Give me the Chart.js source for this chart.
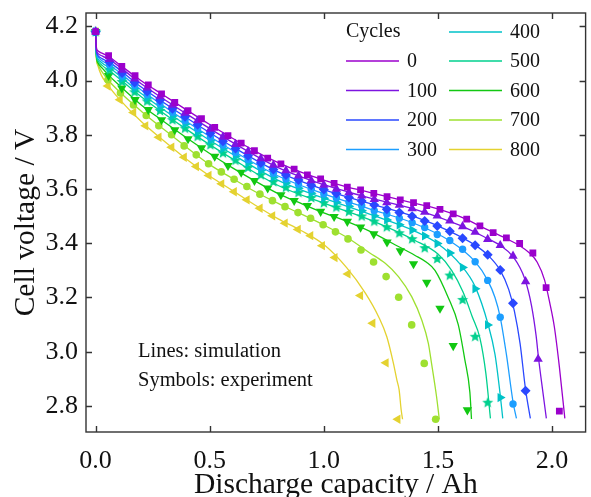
<!DOCTYPE html>
<html>
<head>
<meta charset="utf-8">
<script src="https://cdn.jsdelivr.net/npm/chart.js@4.4.0/dist/chart.umd.min.js"></script>
<style>
  html, body { margin: 0; padding: 0; background: #fff; }
</style>
</head>
<body>
<canvas id="chart" width="591" height="497"></canvas>
<script>
// cycle numbers and colours (purple -> yellow)
var cycles = ["0", "100", "200", "300", "400", "500", "600", "700", "800"];
var colors = ["#9b00cc", "#7d14e0", "#2a48ff", "#1c9eff", "#00c2c8", "#00d08e", "#12c812", "#9ee030", "#e4d230"];

var xTicks = [0, 0.5, 1.0, 1.5, 2.0];
var yTicks = [2.8, 3.0, 3.2, 3.4, 3.6, 3.8, 4.0, 4.2];

// simulation curves [capacity Ah, voltage V]
var sim0 = [[0,4.18],[0.003,4.125],[0.01,4.11],[0.03,4.10],[0.057,4.089],[0.1,4.062],[0.2,3.999],[0.3,3.945],[0.4,3.891],[0.5,3.838],[0.6,3.787],[0.7,3.739],[0.8,3.697],[0.9,3.662],[1.0,3.633],[1.1,3.608],[1.2,3.588],[1.3,3.567],[1.4,3.547],[1.5,3.527],[1.6,3.497],[1.7,3.457],[1.8,3.417],[1.86,3.39],[1.9,3.365],[1.935,3.33],[1.967,3.265],[1.99,3.18],[2.01,3.092],[2.032,2.945],[2.056,2.754]];
var sim100 = [[0,4.18],[0.003,4.118],[0.01,4.1],[0.03,4.09],[0.061,4.077],[0.2,3.988],[0.4,3.876],[0.6,3.772],[0.8,3.679],[1.0,3.616],[1.2,3.567],[1.4,3.525],[1.6,3.465],[1.7,3.425],[1.773,3.392],[1.83,3.35],[1.88,3.27],[1.91,3.17],[1.93,3.06],[1.941,2.975],[1.96,2.85],[1.975,2.754]];
var sim200 = [[0,4.18],[0.003,4.113],[0.01,4.093],[0.03,4.08],[0.061,4.067],[0.2,3.976],[0.4,3.862],[0.6,3.756],[0.8,3.663],[1.0,3.598],[1.2,3.547],[1.4,3.497],[1.55,3.445],[1.663,3.393],[1.72,3.355],[1.773,3.30],[1.81,3.23],[1.835,3.15],[1.86,3.03],[1.884,2.86],[1.905,2.754]];
var sim300 = [[0,4.18],[0.003,4.108],[0.01,4.087],[0.03,4.072],[0.061,4.057],[0.2,3.965],[0.4,3.848],[0.6,3.742],[0.8,3.648],[1.0,3.582],[1.2,3.527],[1.4,3.472],[1.55,3.41],[1.663,3.332],[1.718,3.263],[1.75,3.2],[1.773,3.127],[1.8,2.99],[1.83,2.81],[1.844,2.754]];
var sim400 = [[0,4.18],[0.003,4.103],[0.01,4.08],[0.03,4.064],[0.061,4.047],[0.2,3.952],[0.4,3.834],[0.6,3.728],[0.8,3.632],[1.0,3.566],[1.2,3.507],[1.4,3.444],[1.5,3.398],[1.6,3.32],[1.663,3.24],[1.72,3.1],[1.75,2.99],[1.773,2.84],[1.784,2.754]];
var sim500 = [[0,4.18],[0.003,4.098],[0.01,4.073],[0.03,4.055],[0.061,4.036],[0.2,3.940],[0.4,3.819],[0.6,3.711],[0.8,3.613],[1.0,3.548],[1.2,3.487],[1.4,3.41],[1.5,3.36],[1.56,3.3],[1.61,3.22],[1.65,3.13],[1.684,3.05],[1.71,2.92],[1.73,2.754]];
var sim600 = [[0,4.18],[0.003,4.095],[0.01,4.066],[0.03,4.045],[0.057,4.02],[0.1,3.985],[0.2,3.91],[0.3,3.848],[0.4,3.788],[0.5,3.731],[0.6,3.678],[0.7,3.629],[0.8,3.583],[0.9,3.547],[1.0,3.512],[1.1,3.481],[1.2,3.445],[1.3,3.40],[1.4,3.355],[1.45,3.33],[1.487,3.30],[1.545,3.20],[1.589,3.10],[1.618,2.97],[1.64,2.85],[1.647,2.752]];
var sim700 = [[0,4.18],[0.003,4.09],[0.01,4.06],[0.03,4.03],[0.054,4.003],[0.1,3.962],[0.2,3.887],[0.3,3.819],[0.4,3.753],[0.5,3.69],[0.6,3.639],[0.7,3.59],[0.8,3.547],[0.9,3.508],[1.0,3.467],[1.1,3.422],[1.2,3.365],[1.269,3.326],[1.327,3.277],[1.385,3.203],[1.429,3.117],[1.458,3.031],[1.472,2.957],[1.494,2.834],[1.506,2.751]];
var sim800 = [[0,4.18],[0.003,4.09],[0.01,4.055],[0.025,4.02],[0.054,3.983],[0.1,3.935],[0.2,3.849],[0.3,3.777],[0.4,3.709],[0.5,3.648],[0.6,3.594],[0.7,3.54],[0.8,3.49],[0.9,3.447],[1.0,3.395],[1.1,3.31],[1.182,3.216],[1.24,3.129],[1.276,3.055],[1.305,2.957],[1.32,2.896],[1.33,2.859],[1.339,2.785],[1.345,2.751]];

// experimental points
var exp0 = [[0,4.18],[0.057,4.092],[0.115,4.052],[0.173,4.018],[0.231,3.984],[0.289,3.951],[0.347,3.919],[0.405,3.889],[0.464,3.859],[0.522,3.827],[0.580,3.797],[0.638,3.769],[0.696,3.741],[0.754,3.714],[0.812,3.693],[0.870,3.673],[0.928,3.652],[0.986,3.637],[1.045,3.621],[1.103,3.607],[1.161,3.597],[1.219,3.584],[1.277,3.572],[1.335,3.560],[1.393,3.550],[1.451,3.539],[1.509,3.525],[1.567,3.508],[1.626,3.489],[1.684,3.464],[1.742,3.439],[1.800,3.420],[1.858,3.399],[1.916,3.364],[1.974,3.236],[2.032,2.781]];
var exp100 = [[0,4.18],[0.061,4.078],[0.116,4.039],[0.171,4.006],[0.226,3.973],[0.282,3.941],[0.337,3.910],[0.392,3.880],[0.447,3.852],[0.503,3.821],[0.558,3.792],[0.613,3.765],[0.668,3.739],[0.724,3.712],[0.779,3.688],[0.834,3.668],[0.889,3.649],[0.945,3.631],[1.000,3.615],[1.055,3.600],[1.110,3.587],[1.166,3.575],[1.221,3.562],[1.276,3.550],[1.331,3.541],[1.387,3.528],[1.442,3.515],[1.497,3.501],[1.552,3.483],[1.608,3.462],[1.663,3.441],[1.718,3.415],[1.773,3.392],[1.829,3.353],[1.884,3.259],[1.939,2.973]];
var exp200 = [[0,4.18],[0.061,4.068],[0.116,4.028],[0.171,3.993],[0.226,3.960],[0.282,3.927],[0.337,3.896],[0.392,3.866],[0.447,3.837],[0.503,3.806],[0.558,3.776],[0.613,3.749],[0.668,3.723],[0.724,3.696],[0.779,3.672],[0.834,3.652],[0.889,3.633],[0.945,3.614],[1.000,3.598],[1.055,3.583],[1.110,3.569],[1.166,3.556],[1.221,3.541],[1.276,3.525],[1.331,3.513],[1.387,3.500],[1.442,3.482],[1.497,3.464],[1.552,3.444],[1.608,3.418],[1.663,3.393],[1.718,3.358],[1.773,3.301],[1.829,3.179],[1.884,2.856]];
var exp300 = [[0,4.18],[0.061,4.058],[0.116,4.017],[0.171,3.982],[0.226,3.948],[0.282,3.915],[0.337,3.883],[0.392,3.852],[0.447,3.823],[0.503,3.792],[0.558,3.762],[0.613,3.735],[0.668,3.709],[0.724,3.682],[0.779,3.658],[0.834,3.637],[0.889,3.618],[0.945,3.599],[1.000,3.582],[1.055,3.567],[1.110,3.552],[1.166,3.538],[1.221,3.520],[1.276,3.508],[1.331,3.492],[1.387,3.476],[1.442,3.458],[1.497,3.432],[1.552,3.410],[1.608,3.378],[1.663,3.332],[1.718,3.263],[1.773,3.127],[1.829,2.807]];
var exp400 = [[0,4.18],[0.061,4.048],[0.116,4.007],[0.171,3.970],[0.226,3.936],[0.282,3.902],[0.337,3.869],[0.392,3.839],[0.447,3.809],[0.503,3.778],[0.558,3.748],[0.613,3.721],[0.668,3.695],[0.724,3.668],[0.779,3.643],[0.834,3.622],[0.889,3.603],[0.945,3.584],[1.000,3.566],[1.055,3.551],[1.110,3.536],[1.166,3.520],[1.221,3.501],[1.276,3.486],[1.331,3.468],[1.387,3.449],[1.442,3.427],[1.497,3.399],[1.552,3.364],[1.608,3.311],[1.663,3.232],[1.718,3.099],[1.773,2.831]];
var exp500 = [[0,4.18],[0.061,4.037],[0.116,3.995],[0.171,3.957],[0.226,3.923],[0.282,3.888],[0.337,3.854],[0.392,3.823],[0.447,3.793],[0.503,3.762],[0.558,3.732],[0.613,3.705],[0.668,3.678],[0.724,3.651],[0.779,3.626],[0.834,3.605],[0.889,3.586],[0.945,3.567],[1.000,3.548],[1.055,3.532],[1.110,3.516],[1.166,3.499],[1.221,3.480],[1.276,3.459],[1.331,3.437],[1.387,3.415],[1.442,3.382],[1.497,3.342],[1.552,3.281],[1.608,3.191],[1.663,3.055],[1.718,2.812]];
var exp600 = [[0,4.18],[0.057,4.018],[0.115,3.972],[0.173,3.929],[0.231,3.892],[0.289,3.855],[0.347,3.818],[0.405,3.785],[0.464,3.751],[0.522,3.720],[0.580,3.686],[0.638,3.661],[0.696,3.631],[0.754,3.603],[0.812,3.578],[0.870,3.557],[0.928,3.538],[0.986,3.517],[1.045,3.498],[1.103,3.480],[1.161,3.459],[1.219,3.434],[1.277,3.404],[1.335,3.372],[1.393,3.324],[1.451,3.255],[1.509,3.160],[1.567,3.022],[1.629,2.785]];
var exp700 = [[0,4.18],[0.054,4.003],[0.109,3.954],[0.166,3.910],[0.222,3.871],[0.277,3.833],[0.333,3.800],[0.388,3.759],[0.441,3.726],[0.495,3.693],[0.551,3.663],[0.607,3.636],[0.663,3.609],[0.720,3.581],[0.775,3.557],[0.830,3.535],[0.887,3.513],[0.942,3.492],[0.997,3.468],[1.051,3.442],[1.106,3.416],[1.163,3.375],[1.218,3.331],[1.273,3.277],[1.328,3.201],[1.385,3.099],[1.440,2.957],[1.490,2.751]];
var exp800 = [[0,4.18],[0.054,3.980],[0.107,3.929],[0.166,3.882],[0.219,3.833],[0.277,3.791],[0.333,3.754],[0.388,3.717],[0.441,3.683],[0.496,3.650],[0.552,3.619],[0.607,3.590],[0.663,3.560],[0.720,3.529],[0.775,3.501],[0.830,3.474],[0.887,3.451],[0.942,3.428],[0.993,3.391],[1.048,3.347],[1.105,3.287],[1.160,3.207],[1.214,3.105],[1.272,2.959],[1.324,2.751]];

var simData = [sim0, sim100, sim200, sim300, sim400, sim500, sim600, sim700, sim800];
var expData = [exp0, exp100, exp200, exp300, exp400, exp500, exp600, exp700, exp800];

function makeStar(color, r) {
    var c = document.createElement('canvas');
    var s = Math.ceil(r * 2 + 2);
    c.width = s; c.height = s;
    var g = c.getContext('2d');
    g.fillStyle = color;
    g.beginPath();
    for (var i = 0; i < 10; i++) {
        var rr = i % 2 === 0 ? r : r * 0.45;
        var a = -Math.PI / 2 + i * Math.PI / 5;
        var px = s / 2 + rr * Math.cos(a), py = s / 2 + rr * Math.sin(a);
        if (i === 0) g.moveTo(px, py); else g.lineTo(px, py);
    }
    g.closePath();
    g.fill();
    return c;
}

var pointStyles = ['rect', 'triangle', 'rectRot', 'circle', 'triangle', makeStar(colors[5], 5.8), 'triangle', 'circle', 'triangle'];
var pointRot = [0, 0, 0, 0, 90, 0, 180, 0, 270];
var pointSize = [4.8, 5.4, 5, 3.7, 5.4, 5, 5.4, 3.8, 5.4];

function toXY(arr) {
    return arr.map(function (p) { return { x: p[0], y: p[1] }; });
}

var datasets = [];
for (var i = 0; i < cycles.length; i++) {
    datasets.push({
        label: cycles[i],
        data: toXY(simData[i]),
        showLine: true,
        borderColor: colors[i],
        borderWidth: 1.3,
        pointRadius: 0,
        cubicInterpolationMode: 'monotone',
        order: 2
    });
    datasets.push({
        label: cycles[i] + ' exp',
        data: toXY(expData[i]),
        showLine: false,
        backgroundColor: colors[i],
        borderColor: colors[i],
        borderWidth: 0,
        pointStyle: pointStyles[i],
        pointRotation: pointRot[i],
        pointRadius: pointSize[i],
        order: 1
    });
}

var serif = "'Liberation Serif', 'Times New Roman', serif";
Chart.defaults.font.family = serif;
Chart.defaults.color = '#111';

// frame, inward ticks, legend and notes
var framePlugin = {
    id: 'frame',
    afterDraw: function (chart) {
        var ctx = chart.ctx, a = chart.chartArea;
        var xs = chart.scales.x, ys = chart.scales.y;
        ctx.save();
        ctx.strokeStyle = '#333';
        ctx.lineWidth = 1.4;
        ctx.strokeRect(a.left, a.top, a.right - a.left, a.bottom - a.top);
        ctx.beginPath();
        xTicks.forEach(function (v) {
            var px = Math.round(xs.getPixelForValue(v)) + 0.5;
            ctx.moveTo(px, a.bottom); ctx.lineTo(px, a.bottom - 6);
            ctx.moveTo(px, a.top); ctx.lineTo(px, a.top + 6);
        });
        yTicks.forEach(function (v) {
            var py = Math.round(ys.getPixelForValue(v)) + 0.5;
            ctx.moveTo(a.left, py); ctx.lineTo(a.left + 6, py);
            ctx.moveTo(a.right, py); ctx.lineTo(a.right - 6, py);
        });
        ctx.stroke();

        // legend in two columns
        ctx.font = '20px ' + serif;
        ctx.textBaseline = 'middle';
        ctx.fillStyle = '#111';
        var colX = [346, 449], rowY = [32, 61, 90.5, 120, 149.5];
        ctx.fillText('Cycles', colX[0], rowY[0]);
        for (var i = 0; i < cycles.length; i++) {
            var col = i < 4 ? 0 : 1;
            var row = i < 4 ? i + 1 : i - 4;
            ctx.strokeStyle = colors[i];
            ctx.lineWidth = 1.4;
            ctx.beginPath();
            ctx.moveTo(colX[col], rowY[row]);
            ctx.lineTo(colX[col] + 53, rowY[row]);
            ctx.stroke();
            ctx.fillText(cycles[i], colX[col] + 61, rowY[row] + 1);
        }

        ctx.font = '20.5px ' + serif;
        ctx.fillText('Lines: simulation', 138, 352);
        ctx.fillText('Symbols: experiment', 138, 381);
        ctx.restore();
    }
};

new Chart('chart', {
    type: 'scatter',
    data: { datasets: datasets },
    options: {
        responsive: false,
        animation: false,
        layout: { padding: { left: 0, right: 3, top: 13, bottom: 0 } },
        plugins: { legend: { display: false }, tooltip: { enabled: false } },
        scales: {
            x: {
                type: 'linear',
                min: -0.042,
                max: 2.147,
                afterBuildTicks: function (s) { s.ticks = xTicks.map(function (v) { return { value: v }; }); },
                afterFit: function (s) { s.height = 65; s.paddingLeft = 0; s.paddingRight = 0; },
                grid: { display: false, drawTicks: false },
                border: { display: false },
                ticks: {
                    padding: 14,
                    font: { size: 26, family: serif },
                    color: '#111',
                    callback: function (v) { return v.toFixed(1); }
                },
                title: {
                    display: true,
                    text: 'Discharge capacity / Ah',
                    font: { size: 29.5, family: serif, lineHeight: 1 },
                    color: '#111',
                    padding: { top: 0, bottom: -3 }
                }
            },
            y: {
                type: 'linear',
                min: 2.704,
                max: 4.249,
                afterBuildTicks: function (s) { s.ticks = yTicks.map(function (v) { return { value: v }; }); },
                afterFit: function (s) { s.width = 86; s.paddingTop = 0; s.paddingBottom = 0; },
                grid: { display: false, drawTicks: false },
                border: { display: false },
                ticks: {
                    padding: 8,
                    font: { size: 26, family: serif },
                    color: '#111',
                    callback: function (v) { return v.toFixed(1); }
                },
                title: {
                    display: true,
                    text: 'Cell voltage / V',
                    font: { size: 29.5, family: serif, lineHeight: 1 },
                    color: '#111',
                    padding: { top: 11, bottom: 0 }
                }
            }
        }
    },
    plugins: [framePlugin]
});
</script>
</body>
</html>
